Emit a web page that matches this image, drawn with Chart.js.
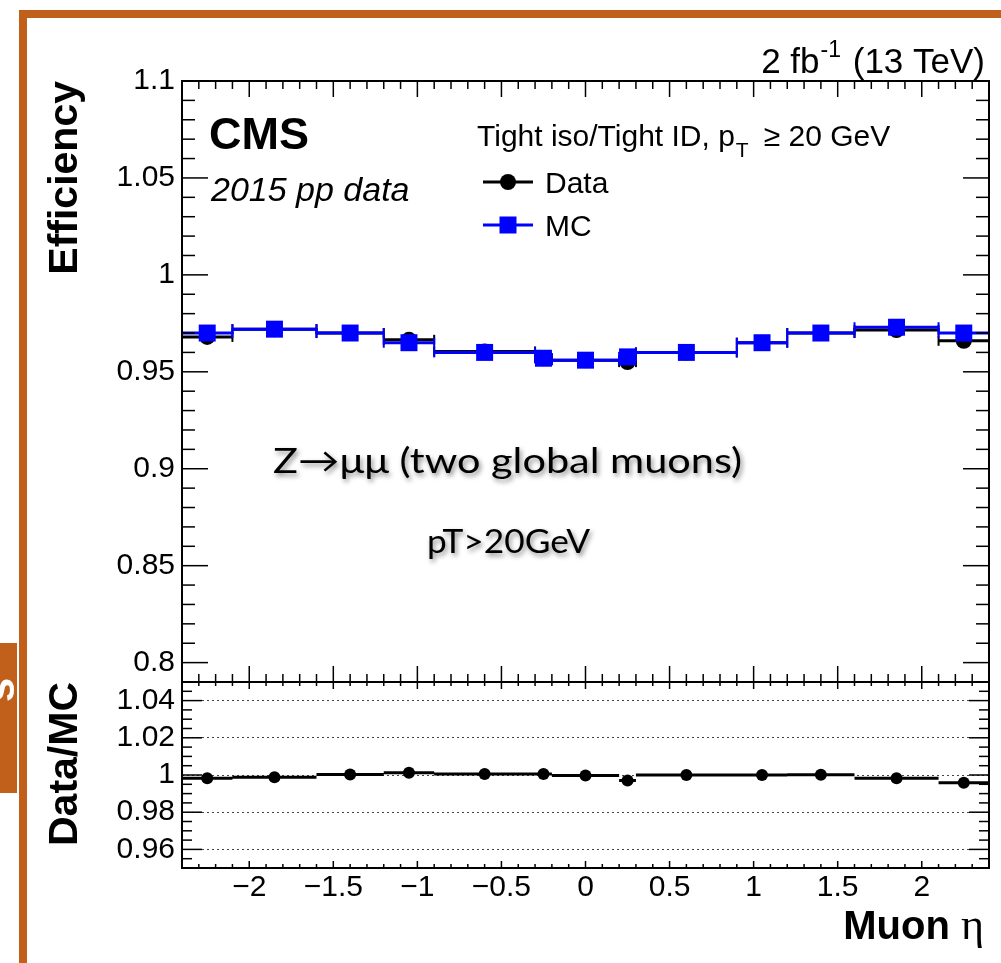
<!DOCTYPE html>
<html>
<head>
<meta charset="utf-8">
<script src="https://cdn.jsdelivr.net/npm/chart.js@4.4.1/dist/chart.umd.min.js"></script>
<style>
  html, body { margin: 0; padding: 0; background: #fff; }
  #effChart { display: block; }
</style>
</head>
<body>
<canvas id="effChart" width="1001" height="963"></canvas>
<script>
// muon eta bins and efficiencies
var binEdges = [-2.4, -2.1, -1.6, -1.2, -0.9, -0.3, -0.2, 0.2, 0.3, 0.9, 1.2, 1.6, 2.1, 2.4];
var effData = [0.968, 0.972, 0.970, 0.9665, 0.9605, 0.957, 0.956, 0.955, 0.960, 0.965, 0.970, 0.9715, 0.966];
var effMC = [0.970, 0.972, 0.970, 0.965, 0.960, 0.957, 0.956, 0.9577, 0.960, 0.965, 0.970, 0.973, 0.970];
var ratio = [0.9983, 0.9988, 1.0003, 1.0012, 1.0006, 1.0006, 0.9997, 0.997, 1.0, 1.0, 1.0001, 0.9983, 0.9958];

var xTicks = [-2, -1.5, -1, -0.5, 0, 0.5, 1, 1.5, 2];
var effTicks = [0.8, 0.85, 0.9, 0.95, 1, 1.05, 1.1];
var ratioTicks = [0.96, 0.98, 1, 1.02, 1.04];

var SANS = "'Liberation Sans', Arial, Helvetica, sans-serif";
var SERIF = "'Liberation Serif', 'DejaVu Serif', serif";
var ORANGE = "#c0601a";

function centers() {
  var c = [];
  for (var i = 0; i < binEdges.length - 1; i++) c.push((binEdges[i] + binEdges[i + 1]) / 2);
  return c;
}
function points(vals) {
  var c = centers();
  return vals.map(function (v, i) { return { x: c[i], y: v }; });
}
// horizontal bin-width bars, broken between bins
function bars(vals) {
  var out = [];
  for (var i = 0; i < vals.length; i++) {
    out.push({ x: binEdges[i], y: vals[i] });
    out.push({ x: binEdges[i + 1], y: vals[i] });
    out.push({ x: binEdges[i + 1], y: null });
  }
  return out;
}
function fmt(v) {
  var s = String(+Math.abs(v).toFixed(2));
  return v < 0 ? "\u2212" + s : s;
}
function steps(lo, hi, step) {
  var out = [];
  var n = Math.round((hi - lo) / step);
  for (var i = 0; i <= n; i++) out.push(+(lo + i * step).toFixed(4));
  return out;
}

function seg(ctx, x1, y1, x2, y2) {
  ctx.beginPath();
  ctx.moveTo(x1, y1);
  ctx.lineTo(x2, y2);
  ctx.stroke();
}
// text squeezed/stretched to a given width (the slide font is wider than Lato)
function fitText(ctx, str, x, y, w) {
  var m = ctx.measureText(str).width;
  ctx.save();
  ctx.translate(x, y);
  ctx.scale(w / m, 1);
  ctx.fillText(str, 0, 0);
  ctx.restore();
}

var pageDecor = {
  id: "pageDecor",
  beforeDraw: function (chart) {
    var ctx = chart.ctx;
    ctx.save();
    ctx.fillStyle = "#fff";
    ctx.fillRect(0, 0, chart.width, chart.height);
    ctx.fillStyle = ORANGE;
    ctx.fillRect(19, 10, chart.width - 19, 8);
    ctx.fillRect(19, 10, 8, chart.height - 10);
    ctx.fillRect(0, 643, 17, 150);
    // clipped text on the side tab
    ctx.save();
    ctx.beginPath();
    ctx.rect(0, 643, 17, 150);
    ctx.clip();
    ctx.translate(14, 690);
    ctx.rotate(-Math.PI / 2);
    ctx.fillStyle = "#fff";
    ctx.font = "bold 44px " + SANS;
    ctx.textAlign = "center";
    ctx.textBaseline = "alphabetic";
    ctx.fillText("s", 0, 0);
    ctx.restore();
    ctx.restore();
  },
  afterDraw: function (chart) {
    var ctx = chart.ctx;
    var x = chart.scales.x, y = chart.scales.y, y2 = chart.scales.y2;
    var L = chart.chartArea.left, R = chart.chartArea.right;
    var T = y.top, M = y.bottom, B = y2.bottom;
    ctx.save();
    ctx.strokeStyle = "#000";
    ctx.lineWidth = 1.5;

    // y ticks, efficiency panel
    steps(0.79, 1.1, 0.01).forEach(function (v) {
      var major = effTicks.some(function (t) { return Math.abs(t - v) < 1e-6; });
      var len = major ? 26 : 13;
      var p = y.getPixelForValue(v);
      seg(ctx, L, p, L + len, p);
      seg(ctx, R, p, R - len, p);
    });
    // y ticks, ratio panel
    steps(0.95, 1.05, 0.005).forEach(function (v) {
      var major = ratioTicks.some(function (t) { return Math.abs(t - v) < 1e-6; });
      var len = major ? 20 : 10;
      var p = y2.getPixelForValue(v);
      seg(ctx, L, p, L + len, p);
      seg(ctx, R, p, R - len, p);
    });
    // x ticks
    steps(-2.4, 2.4, 0.1).forEach(function (v) {
      var major = xTicks.some(function (t) { return Math.abs(t - v) < 1e-6; });
      var p = x.getPixelForValue(v);
      seg(ctx, p, T, p, T + (major ? 16 : 8));
      seg(ctx, p, M, p, M - (major ? 16 : 8));
      seg(ctx, p, M, p, M + (major ? 7 : 4));
      seg(ctx, p, B, p, B - (major ? 7 : 4));
    });

    // frames
    ctx.lineWidth = 2;
    ctx.strokeRect(L, T, R - L, M - T);
    ctx.strokeRect(L, M, R - L, B - M);

    ctx.fillStyle = "#000";
    ctx.textBaseline = "alphabetic";

    // lumi label
    var a = "2 fb", b = " (13 TeV)";
    ctx.font = "23px " + SANS;
    var wSup = ctx.measureText("-1").width + 3;
    ctx.font = "35px " + SANS;
    var wa = ctx.measureText(a).width, wb = ctx.measureText(b).width;
    var x0 = 985 - (wa + wSup + wb);
    ctx.fillText(a, x0, 73);
    ctx.font = "23px " + SANS;
    ctx.fillText("-1", x0 + wa + 1, 57);
    ctx.font = "35px " + SANS;
    ctx.fillText(b, x0 + wa + wSup, 73);

    // CMS label
    ctx.font = "bold 45px " + SANS;
    ctx.fillText("CMS", 209, 149);
    ctx.font = "italic 34px " + SANS;
    ctx.fillText("2015 pp data", 211, 201);

    // legend header
    ctx.font = "30px " + SANS;
    var h1 = "Tight iso/Tight ID, p";
    ctx.fillText(h1, 477, 146);
    var hx = 477 + ctx.measureText(h1).width;
    ctx.font = "21px " + SANS;
    ctx.fillText("T", hx + 1, 157);
    hx += ctx.measureText("T").width + 8;
    ctx.font = "30px " + SANS;
    ctx.fillText("\u2265 20 GeV", hx + 8, 146);

    // legend entries
    ctx.lineWidth = 3;
    ctx.strokeStyle = "#000";
    seg(ctx, 483, 182, 533, 182);
    ctx.beginPath();
    ctx.arc(508, 182, 8, 0, 2 * Math.PI);
    ctx.fill();
    ctx.strokeStyle = "#0000ff";
    ctx.fillStyle = "#0000ff";
    seg(ctx, 483, 225, 533, 225);
    ctx.fillRect(508 - 8.5, 225 - 8.5, 17, 17);
    ctx.fillStyle = "#000";
    ctx.font = "30px " + SANS;
    ctx.fillText("Data", 545, 193);
    ctx.fillText("MC", 545, 236);

    // x axis title
    ctx.font = "44px " + SERIF;
    var wEta = ctx.measureText("\u03b7").width;
    ctx.font = "bold 40px " + SANS;
    var wMuon = ctx.measureText("Muon ").width;
    var mx = 984 - wEta - wMuon;
    ctx.fillText("Muon ", mx, 939);
    ctx.font = "44px " + SERIF;
    ctx.fillText("\u03b7", mx + wMuon, 939);

    // slide annotation
    ctx.shadowColor = "rgba(0,0,0,0.45)";
    ctx.shadowBlur = 5;
    ctx.shadowOffsetX = 2;
    ctx.shadowOffsetY = 3;
    ctx.font = "35px Lato, 'Open Sans', sans-serif";
    fitText(ctx, "Z\u2192\u03bc\u03bc (two global muons)", 273, 473, 469);
    ctx.font = "33px Lato, 'Open Sans', sans-serif";
    fitText(ctx, "pT>20GeV", 427, 553, 163);
    ctx.restore();
  }
};

var ctx = document.getElementById("effChart").getContext("2d");
var effChart = new Chart(ctx, {
  type: "scatter",
  data: {
    datasets: [
      {
        label: "Data bins",
        data: bars(effData),
        yAxisID: "y",
        showLine: true,
        spanGaps: false,
        borderColor: "#000",
        borderWidth: 3,
        pointStyle: "line",
        rotation: 90,
        pointRadius: 5,
        pointBorderWidth: 2,
        pointBorderColor: "#000",
        order: 4,
      },
      {
        label: "Data",
        data: points(effData),
        yAxisID: "y",
        pointStyle: "circle",
        pointRadius: 8,
        pointBorderWidth: 0,
        backgroundColor: "#000",
        borderColor: "#000",
        order: 3,
      },
      {
        label: "MC bins",
        data: bars(effMC),
        yAxisID: "y",
        showLine: true,
        spanGaps: false,
        borderColor: "#0000ff",
        borderWidth: 3,
        pointStyle: "line",
        rotation: 90,
        pointRadius: 5,
        pointBorderWidth: 2,
        pointBorderColor: "#0000ff",
        order: 2,
      },
      {
        label: "MC",
        data: points(effMC),
        yAxisID: "y",
        pointStyle: "rect",
        pointRadius: 12,
        pointBorderWidth: 0,
        backgroundColor: "#0000ff",
        borderColor: "#0000ff",
        order: 1,
      },
      {
        label: "Ratio bins",
        data: bars(ratio),
        yAxisID: "y2",
        showLine: true,
        spanGaps: false,
        borderColor: "#000",
        borderWidth: 3,
        pointRadius: 0,
        order: 6,
      },
      {
        label: "Data/MC",
        data: points(ratio),
        yAxisID: "y2",
        pointStyle: "circle",
        pointRadius: 6,
        pointBorderWidth: 0,
        backgroundColor: "#000",
        borderColor: "#000",
        order: 5,
      },
    ],
  },
  options: {
    responsive: false,
    animation: false,
    events: [],
    layout: { padding: { top: 81, right: 6, left: 0, bottom: 0 } },
    plugins: {
      legend: { display: false },
      tooltip: { enabled: false },
    },
    scales: {
      x: {
        type: "linear",
        position: "bottom",
        min: -2.4,
        max: 2.4,
        grid: { display: false, drawTicks: false },
        border: { display: false },
        afterBuildTicks: function (s) {
          s.ticks = xTicks.map(function (v) { return { value: v }; });
        },
        afterFit: function (s) { s.height = 95; },
        ticks: {
          color: "#000",
          font: { family: SANS, size: 30 },
          padding: 2,
          maxRotation: 0,
          autoSkip: false,
          callback: function (v) { return fmt(v); },
        },
      },
      // ratio panel comes first so the stack puts it under the efficiency panel
      y2: {
        type: "linear",
        position: "left",
        stack: "eta",
        stackWeight: 186,
        min: 0.95,
        max: 1.05,
        grid: { display: true, drawTicks: false, color: "#444", lineWidth: 1 },
        border: { display: false, dash: [2, 3] },
        afterBuildTicks: function (s) {
          s.ticks = ratioTicks.map(function (v) { return { value: v }; });
        },
        afterFit: function (s) { s.width = 182; },
        ticks: {
          color: "#000",
          font: { family: SANS, size: 30 },
          padding: 7,
          autoSkip: false,
          callback: function (v) { return fmt(v); },
        },
        title: {
          display: true,
          text: "Data/MC",
          align: "end",
          color: "#000",
          font: { family: SANS, size: 41, weight: "bold" },
          padding: { top: 41, bottom: 0 },
        },
      },
      y: {
        type: "linear",
        position: "left",
        stack: "eta",
        stackWeight: 601,
        min: 0.79,
        max: 1.1,
        grid: { display: false, drawTicks: false },
        border: { display: false },
        afterBuildTicks: function (s) {
          s.ticks = effTicks.map(function (v) { return { value: v }; });
        },
        afterFit: function (s) { s.width = 182; },
        ticks: {
          color: "#000",
          font: { family: SANS, size: 30 },
          padding: 7,
          autoSkip: false,
          callback: function (v) { return fmt(v); },
        },
        title: {
          display: true,
          text: "Efficiency",
          align: "end",
          color: "#000",
          font: { family: SANS, size: 41, weight: "bold" },
          padding: { top: 41, bottom: 0 },
        },
      },
    },
  },
  plugins: [pageDecor],
});
</script>
</body>
</html>
